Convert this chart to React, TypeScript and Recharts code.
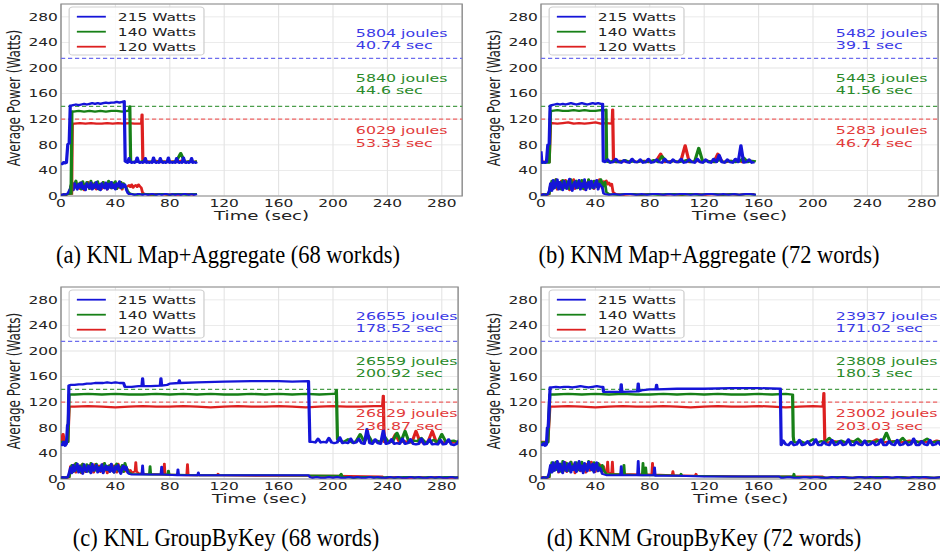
import React from 'react';
import {
  LineChart,
  Line,
  XAxis,
  YAxis,
  CartesianGrid,
  ReferenceLine,
  ReferenceDot,
  ReferenceArea,
} from 'recharts';

type P = { t: number; v: number };
// expand typed samples onto their sampling grid
const g = (t0: number, dt: number, vals: number[]): P[] =>
  vals.map((v, i) => ({ t: +(t0 + i * dt).toFixed(2), v }));
const p = (pairs: number[][]): P[] => pairs.map(([t, v]) => ({ t, v }));

const X_TICKS = [0, 40, 80, 120, 160, 200, 240, 280];
const Y_TICKS = [0, 40, 80, 120, 160, 200, 240, 280];
const LIMITS = [215, 140, 120];
const SERIES_NAMES = ['215 Watts', '140 Watts', '120 Watts'];
const NOTE_Y = [254, 236, 184, 166, 103, 83];
const NOTE_X = 216.8;

const CAPTIONS = [
  '(a) KNL Map+Aggregate (68 workds)',
  '(b) KNM Map+Aggregate (72 words)',
  '(c) KNL GroupByKey (68 words)',
  '(d) KNM GroupByKey (72 words)',
];

const aNotes = ['5804 joules', '40.74 sec', '5840 joules', '44.6 sec', '6029 joules', '53.33 sec'];
const bNotes = ['5482 joules', '39.1 sec', '5443 joules', '41.56 sec', '5283 joules', '46.74 sec'];
const cNotes = ['26655 joules', '178.52 sec', '26559 joules', '200.92 sec', '26829 joules', '236.87 sec'];
const dNotes = ['23937 joules', '171.02 sec', '23808 joules', '180.3 sec', '23002 joules', '203.03 sec'];

// ---------------- (a) KNL Map+Aggregate ----------------
const aBlueUp = [
  ...g(0, 1, [52, 50, 53, 51, 52]),
  ...p([[5, 81], [6, 82], [6.8, 141]]),
  ...g(7, 2, [141, 142, 143, 142, 143, 144, 143, 144, 145, 144, 145, 144, 145, 146, 145, 146, 146, 147, 146, 147]),
  ...p([[46.5, 148], [47.2, 54]]),
  ...g(48, 1, [53, 52, 59, 53, 52, 53, 52, 53, 60, 53, 52, 53, 52, 53, 59, 52, 53, 52, 53, 52, 60, 53, 52, 53, 52, 59, 53, 52, 53, 52, 53, 60, 52, 53, 52, 53, 52, 59, 53, 52, 53, 52, 60, 53, 52, 53, 52, 53, 59, 52, 53, 52, 53]),
];
const aGreenUp = [
  ...p([[7.4, 2], [8, 132]]),
  ...g(9, 4, [132, 133, 132, 133, 132, 133, 132, 133, 133, 132, 133]),
  ...p([[50.2, 133], [50.6, 140], [51.2, 54]]),
  ...g(52, 3, [53, 54, 53, 55, 53, 54, 53, 55, 53, 54, 53, 55, 67, 53, 54, 53, 54]),
];
const aRedUp = [
  ...p([[7.8, 2], [8.3, 113]]),
  ...g(10, 4, [113, 114, 113, 114, 113, 113, 114, 113, 114, 113, 114, 113, 113]),
  ...p([[59.3, 114], [59.6, 127], [60.2, 53]]),
  ...g(61, 3, [53, 54, 53, 55, 53, 54, 53, 54, 53, 55, 53, 54, 53, 54]),
];
const aBlueLo = [
  ...g(0, 1, [2, 2, 3, 2, 3, 4]),
  ...p([[6, 8]]),
  ...g(7, 1, [12, 18, 9, 20, 14, 10, 19, 13, 21, 11, 16, 9, 20, 15, 12, 21, 10, 18, 13, 22, 11, 17, 9, 20, 14, 12, 21, 10, 19, 13, 22, 12, 18, 10, 20, 15, 23, 12, 19, 14]),
  ...p([[47, 18], [48, 10], [49, 5], [50, 3]]),
  ...g(52, 2, [3, 2, 3, 3, 2, 3, 2, 3, 3, 2, 3, 2, 3, 3, 2, 3, 2, 3, 2, 3, 3, 2, 3, 2, 3]),
];
const aGreenLo = [
  ...g(0, 1, [2, 2, 2, 3, 2, 3, 3]),
  ...g(7, 1, [14, 22, 11, 19, 24, 12, 17, 21, 10, 23, 15, 13, 22, 18, 11, 24, 16, 12, 21, 14, 23, 10, 19, 15, 22, 13, 20, 11, 24, 17, 12, 21, 16, 23, 11, 18, 14, 22, 12, 20, 15, 13, 8, 5]),
  ...g(52, 4, [3, 2, 3, 3, 2, 3, 3, 2, 3, 3, 2, 3, 3]),
];
const aRedLo = [
  ...g(0, 1, [2, 2, 3, 2, 2, 3, 3]),
  ...g(7, 1, [13, 20, 10, 17, 22, 12, 18, 11, 21, 15, 9, 19, 14, 22, 11, 16, 20, 12, 18, 10, 21, 13, 17, 11, 22, 14, 19, 10, 16, 21, 12, 18, 15, 20, 11, 17, 13, 22, 10, 19, 16, 14, 15, 17, 14, 18, 13, 16, 17, 14, 18, 15, 13, 5]),
  ...g(62, 4, [3, 2, 3, 3, 2, 3, 2, 3, 3, 2]),
];

// ---------------- (b) KNM Map+Aggregate ----------------
const bBlueUp = [
  ...p([[0, 70], [0.6, 53]]),
  ...g(1, 1, [52, 53, 52, 53]),
  ...p([[5, 80], [6, 81], [6.7, 141]]),
  ...g(8, 2, [142, 143, 144, 143, 144, 143, 144, 145, 144, 143, 144, 145, 144, 143, 144, 145, 144, 145, 144]),
  ...p([[45.3, 144], [45.8, 54]]),
  ...g(47, 2, [53, 57, 52, 53, 58, 53, 52, 56, 53, 52, 58, 53, 53, 57, 52, 53, 58, 52, 53, 57, 53, 52, 58, 53, 52, 57, 53, 53, 58, 52, 53, 57, 53, 52, 58, 53, 52, 57, 53, 52, 58, 53, 64, 53, 52, 57, 53, 52, 58, 53, 79, 52, 53, 57, 52, 53]),
];
const bGreenUp = [
  ...p([[0, 52], [6, 52], [7, 133]]),
  ...g(8, 4, [133, 134, 133, 133, 134, 133, 134, 133, 133, 134]),
  ...p([[47.5, 134], [47.8, 135], [48.3, 54]]),
  ...g(50, 3, [53, 55, 53, 54, 56, 53, 54, 53, 55, 53, 54, 56, 53, 62, 54, 53, 55, 53, 54, 56, 53, 54, 75, 53, 55, 54, 53, 56, 53, 54, 55, 53, 54, 60, 53, 55, 54]),
];
const bRedUp = [
  ...p([[0, 54], [6, 53], [7, 114]]),
  ...g(8, 4, [114, 113, 114, 115, 113, 114, 113, 114, 115, 113, 114, 113]),
  ...p([[52.4, 114], [52.7, 135], [53.3, 54]]),
  ...g(55, 3, [53, 55, 54, 53, 56, 53, 54, 55, 53, 54, 56, 66, 53, 54, 55, 53, 56, 79, 53, 54, 55, 53, 56, 54, 53, 66, 54, 53, 55, 54, 56, 53, 54, 55, 53]),
];
const bBlueLo = [
  ...g(0, 1, [2, 2, 3, 2, 2, 3]),
  ...p([[6, 8]]),
  ...g(7, 1, [20, 8, 25, 12, 18, 26, 10, 22, 14, 9, 24, 16, 11, 21, 27, 13, 8, 19, 23, 12, 17, 25, 10, 20, 14, 26, 9, 18, 22, 11, 24, 15, 12, 21, 25, 10, 19, 16]),
  ...p([[45, 14], [46, 4], [47, 3]]),
  ...g(50, 4, [2, 3, 2, 3, 3, 2, 3, 2, 3, 3, 2, 3, 2, 3, 3, 2, 3, 2, 3, 3, 2, 3, 2, 3, 2, 3, 3, 2]),
];
const bGreenLo = [
  ...g(0, 1, [2, 2, 2, 3, 2, 3, 3]),
  ...g(7, 1, [15, 24, 11, 20, 26, 13, 18, 22, 10, 25, 16, 12, 23, 19, 11, 26, 14, 21, 17, 24, 12, 20, 15, 25, 11, 22, 18, 13, 26, 16, 21, 12, 24, 19, 14, 23, 17, 26, 20, 15, 22, 6]),
  ...g(50, 6, [3, 2, 3, 3, 2, 3, 2, 3, 3, 2, 3, 2, 3, 3, 2, 3, 2, 3, 2]),
];
const bRedLo = [
  ...g(0, 1, [2, 3, 2, 2, 3, 2, 3]),
  ...g(7, 1, [18, 11, 23, 14, 26, 10, 20, 16, 24, 12, 19, 25, 13, 21, 9, 22, 17, 26, 11, 20, 15, 24, 12, 18, 23, 10, 21, 16, 25, 13, 19, 22, 11, 24, 17, 14, 26, 20, 12, 23, 22, 24, 18, 21, 16, 19, 6]),
  ...g(55, 6, [3, 2, 3, 2, 3, 3, 2, 3, 2, 3, 3, 2, 3, 2, 3, 2, 3, 3]),
];

// ---------------- (c) KNL GroupByKey ----------------
const cBlueUp = [
  ...g(0, 1, [56, 53, 58, 52, 55]),
  ...p([[4.8, 84], [5.3, 86], [5.8, 146]]),
  ...g(7, 3, [147, 147, 148, 148, 149, 149, 150, 150, 150, 151, 150, 151, 150, 150]),
  ...p([[47, 144], [52, 144], [57, 145], [59.5, 145], [60, 157], [60.5, 145], [66, 145], [73, 146], [73.5, 157], [74, 146], [78, 147], [80, 149], [86.5, 150], [87, 154], [87.5, 150], [100, 151], [120, 152], [140, 153], [160, 153], [170, 152], [182, 153], [183, 58]]),
  ...g(185, 2, [58, 57, 63, 57, 58, 57, 64, 57, 56, 57, 65, 56, 57, 56, 63, 56, 57, 63, 56, 55, 78, 56, 55, 62, 56, 55, 76, 55, 56, 62, 55, 56, 55, 63, 55, 56, 62, 55, 54, 55, 63, 54, 55, 62, 54, 55, 54, 61, 54, 55, 62, 54, 53, 55, 61, 54, 53, 55]),
];
const cGreenUp = [
  ...p([[0, 58], [5, 58], [6, 132]]),
  ...g(10, 10, [132, 133, 132, 133, 132, 132, 133, 132, 133, 132, 133, 132, 132, 133, 132, 133, 132, 133, 132, 133]),
  ...p([[202, 133], [202.5, 139], [203.3, 62]]),
  ...g(205, 3, [60, 58, 62, 57, 59, 70, 58, 68, 57, 60, 58, 66, 57, 59, 72, 58, 75, 57, 60, 59, 64, 57, 58, 61, 57, 70, 58, 59, 60, 57, 58, 59]),
];
const cRedUp = [
  ...p([[0, 58], [1.5, 70], [2.5, 57], [5, 58], [6, 113]]),
  ...g(10, 10, [113, 114, 113, 112, 113, 114, 113, 113, 114, 113, 112, 113, 114, 113, 113, 114, 113, 112, 113, 114, 113, 113, 114]),
  ...p([[236.5, 114], [237, 130], [237.6, 58]]),
  ...g(240, 3, [57, 58, 70, 57, 59, 58, 57, 75, 58, 57, 59, 75, 57, 58, 57, 59, 57, 58, 57, 58]),
];
const cBlueLo = [
  ...g(0, 1, [2, 3, 2, 3, 2, 3]),
  ...p([[6, 10]]),
  ...g(7, 1, [18, 9, 22, 12, 17, 24, 10, 20, 14, 8, 23, 15, 11, 21, 19, 9, 24, 13, 17, 22, 10, 18, 12, 23, 9, 16, 21, 14, 19, 11, 24, 13, 10, 20, 15, 22, 12, 8, 18, 21, 14, 19, 10]),
  ...p([[50, 8], [52, 7], [59.5, 7], [60, 21], [60.5, 7], [73.5, 7], [74, 19], [74.5, 7], [85.5, 6], [86, 15], [86.5, 6], [100.5, 6], [101, 10], [101.5, 6], [120, 6], [150, 6], [182, 6], [183, 3]]),
  ...g(185, 3, [2, 3, 2, 2, 3, 2, 3, 2, 2, 3, 2, 3, 2, 2, 3, 2, 3, 2, 2, 3, 2, 3, 2, 2, 3, 2, 3, 2, 2, 3, 2, 3, 2, 2, 3, 2, 3, 2, 2]),
];
const cGreenLo = [
  ...g(0, 1, [2, 2, 3, 2, 2, 3, 3]),
  ...g(7, 1, [14, 22, 11, 19, 25, 13, 17, 21, 10, 24, 16, 12, 23, 18, 11, 25, 15, 20, 13, 24, 12, 19, 16, 22, 11, 25, 14, 18, 21, 12, 23, 17, 10, 20, 24, 13, 19, 15, 22, 11, 25, 18, 14, 10]),
  ...p([[52, 8], [65, 7], [65.5, 20], [66, 7], [78.5, 7], [79, 13], [79.5, 7], [100, 6], [150, 6], [205, 5], [206, 8], [207, 3]]),
  ...g(210, 6, [3, 2, 3, 3, 2, 3, 2, 3, 3, 2, 3, 2, 3, 3, 2]),
];
const cRedLo = [
  ...g(0, 1, [2, 3, 2, 2, 3, 2, 3]),
  ...g(7, 1, [20, 12, 16, 23, 10, 18, 14, 21, 9, 24, 15, 11, 20, 17, 22, 12, 19, 10, 23, 14, 18, 21, 11, 16, 24, 13, 20, 9, 17, 22, 15, 12, 21, 18, 10, 24, 14, 19, 16, 11, 13, 12, 15, 11, 14, 10]),
  ...p([[54.5, 12], [55, 26], [55.5, 12], [57, 9], [62, 8], [75.5, 7], [76, 24], [76.5, 7], [92.5, 6], [93, 23], [93.5, 6], [115, 6], [115.5, 8], [116, 6], [150, 5], [200, 5], [236, 4], [238, 2]]),
  ...g(240, 6, [2, 3, 2, 2, 3, 2, 3, 2, 2, 3]),
];

// ---------------- (d) KNM GroupByKey ----------------
const dBlueUp = [
  ...g(0, 1, [55, 53, 56, 52, 54]),
  ...p([[4.7, 80], [5.3, 81], [6.7, 143]]),
  ...g(8, 3, [143, 144, 143, 144, 144, 143, 144, 145, 144, 143, 144, 145, 144]),
  ...p([[45.5, 144], [46, 136], [58.5, 136], [59, 148], [59.5, 136], [71, 137], [71.5, 149], [72, 137], [75, 139], [80, 140], [84.5, 140], [85, 147], [85.5, 140], [100, 141], [120, 141], [140, 142], [160, 142], [176, 141], [176.6, 53]]),
  ...g(178, 2, [60, 54, 53, 58, 53, 54, 61, 53, 54, 59, 53, 54, 62, 53, 53, 58, 54, 53, 61, 53, 54, 59, 53, 54, 62, 53, 53, 58, 54, 53, 60, 53, 54, 58, 53, 54, 62, 53, 53, 59, 54, 53, 61, 53, 54, 58, 53, 54, 63, 53, 53, 59, 54, 53, 61, 53, 54, 58, 53, 54, 60]),
];
const dGreenUp = [
  ...p([[0, 57], [5, 57], [6.5, 132]]),
  ...g(10, 10, [132, 133, 132, 133, 132, 133, 132, 132, 133, 132, 133, 132, 133, 132, 132, 133, 132, 133]),
  ...p([[185, 132], [185.5, 66], [186, 58]]),
  ...g(188, 3, [57, 59, 56, 58, 62, 57, 59, 58, 64, 57, 58, 60, 57, 59, 58, 63, 57, 58, 59, 57, 60, 58, 72, 57, 59, 58, 64, 57, 58, 60, 57, 59, 63, 57, 58, 59, 57, 60]),
];
const dRedUp = [
  ...p([[0, 58], [5, 58], [6.5, 113]]),
  ...g(10, 10, [113, 114, 113, 112, 113, 114, 113, 113, 114, 113, 112, 113, 114, 113, 113, 114, 113, 112, 113, 114]),
  ...p([[207.5, 113], [208, 134], [208.7, 58]]),
  ...g(211, 4, [57, 59, 58, 57, 60, 58, 57, 59, 58, 62, 57, 58, 59, 57, 58, 60, 57, 59, 58, 57, 60, 58, 57]),
];
const dBlueLo = [
  ...g(0, 1, [2, 2, 3, 2, 2, 3]),
  ...p([[6, 10]]),
  ...g(7, 1, [22, 10, 26, 13, 19, 28, 11, 24, 15, 9, 27, 17, 12, 23, 25, 10, 20, 14, 26, 11, 18, 28, 13, 21, 9, 25, 16, 12, 27, 19, 14, 24, 10, 22, 26, 12, 18, 15]),
  ...p([[45, 8], [48, 6], [58.5, 6], [59, 20], [59.5, 6], [71, 6], [71.5, 28], [72, 6], [83, 6], [83.5, 18], [84, 5], [100, 5], [120, 4], [150, 4], [175, 4], [176.6, 2]]),
  ...g(178, 4, [2, 3, 2, 2, 3, 2, 3, 2, 2, 3, 2, 3, 2, 2, 3, 2, 3, 2, 2, 3, 2, 3, 2, 2, 3, 2, 3, 2, 2, 3, 2]),
];
const dGreenLo = [
  ...g(0, 1, [2, 2, 2, 3, 2, 3, 3]),
  ...g(7, 1, [16, 26, 12, 21, 27, 14, 19, 24, 11, 28, 17, 13, 25, 20, 12, 27, 15, 22, 18, 26, 13, 21, 16, 27, 12, 24, 19, 14, 28, 17, 22, 13, 26, 20, 15, 25, 18, 12, 22, 14]),
  ...p([[48, 8], [60.5, 7], [61, 22], [61.5, 7], [74.5, 6], [75, 25], [75.5, 6], [76.5, 6], [77, 18], [77.5, 6], [90, 6], [102.5, 5], [103, 8], [103.5, 5], [140, 4], [185.5, 4], [186, 8], [186.5, 3], [200, 3]]),
  ...g(205, 6, [3, 2, 3, 3, 2, 3, 2, 3, 3, 2, 3, 2, 3, 3, 2, 3]),
];
const dRedLo = [
  ...g(0, 1, [2, 3, 2, 2, 3, 2, 3]),
  ...g(7, 1, [19, 12, 25, 15, 22, 27, 10, 20, 17, 24, 13, 26, 11, 21, 18, 27, 14, 23, 9, 25, 16, 20, 12, 26, 15, 22, 10, 24, 19, 13, 27, 17, 21, 11, 25, 14, 23, 18, 12, 20]),
  ...p([[47, 10], [48.5, 10], [49, 27], [49.5, 10], [52, 9], [52.5, 27], [53, 8], [81.5, 7], [82, 25], [82.5, 7], [96.5, 6], [97, 12], [97.5, 6], [113.5, 5], [114, 8], [114.5, 5], [150, 4], [207, 4], [208.7, 2]]),
  ...g(211, 6, [2, 3, 2, 2, 3, 2, 3, 2, 2, 3, 2, 3, 2, 2, 3]),
];

// ---------------- styling / layout ----------------
const S = 1.4; // horizontal stretch of the original figure
const PX_PER_SEC = 1.36 / S;
const Y_AXIS_W = 61 / S;
const CH = 230;
const FONT = 'DejaVu Sans';
const COLORS = ['#1515d8', '#178017', '#dd2020'];
const DASH_COLORS = ['#6e6eee', '#4c9e4c', '#ee6262'];
const NOTE_COLORS = ['#3a3ae6', '#2a8a2a', '#e23a3a'];

type PanelProps = {
  left: number;
  top: number;
  xmax: number;
  up: P[][];
  lo: P[][];
  notes: string[];
};

function Panel({ left, top, xmax, up, lo, notes }: PanelProps) {
  const w = Y_AXIS_W + xmax * PX_PER_SEC + 2;
  const plotCenter = Y_AXIS_W + (xmax * PX_PER_SEC) / 2;
  const tickStyle = { fontSize: 11, fill: '#222', fontFamily: FONT };
  const order = [2, 1, 0];
  return (
    <div
      style={{
        position: 'absolute',
        left,
        top,
        width: w,
        height: CH,
        transform: `scaleX(${S})`,
        transformOrigin: '0 0',
      }}
    >
      <LineChart width={w} height={CH} margin={{ top: 4, right: 2, bottom: 4, left: 0 }} style={{ fontFamily: FONT }}>
        <CartesianGrid stroke="#e4e4e4" strokeWidth={0.8} />
        <XAxis
          type="number"
          dataKey="t"
          domain={[0, xmax]}
          allowDataOverflow
          ticks={X_TICKS}
          interval={0}
          height={30}
          tickSize={0}
          tickMargin={3.5}
          axisLine={false}
          tick={tickStyle}
        />
        <YAxis
          type="number"
          domain={[0, 300]}
          allowDataOverflow
          ticks={Y_TICKS}
          interval={0}
          width={Y_AXIS_W}
          tickSize={0}
          tickMargin={2.2}
          axisLine={false}
          tick={tickStyle}
        />
        {LIMITS.map((y, i) => (
          <ReferenceLine key={'lim' + y} y={y} stroke={DASH_COLORS[i]} strokeDasharray="3 2" strokeWidth={1.2} />
        ))}
        {order.map((i) => (
          <Line
            key={'lo' + i}
            data={lo[i]}
            dataKey="v"
            name={SERIES_NAMES[i] + ' (low)'}
            type="linear"
            stroke={COLORS[i]}
            strokeWidth={2}
            dot={false}
            activeDot={false}
            isAnimationActive={false}
            strokeLinejoin="round"
          />
        ))}
        {order.map((i) => (
          <Line
            key={'up' + i}
            data={up[i]}
            dataKey="v"
            name={SERIES_NAMES[i]}
            type="linear"
            stroke={COLORS[i]}
            strokeWidth={2.3}
            dot={false}
            activeDot={false}
            isAnimationActive={false}
            strokeLinejoin="round"
          />
        ))}
        <ReferenceArea x1={0} x2={xmax} y1={0} y2={300} fill="none" stroke="#8c8c8c" strokeWidth={1} ifOverflow="visible" />
        {notes.map((txt, k) => (
          <ReferenceDot
            key={'note' + k}
            x={NOTE_X}
            y={NOTE_Y[k]}
            r={0}
            fill="none"
            stroke="none"
            label={{
              value: txt,
              position: 'right',
              offset: 0,
              fill: NOTE_COLORS[Math.floor(k / 2)],
              fontSize: 11.3,
              fontFamily: FONT,
            }}
          />
        ))}
      </LineChart>
      <svg
        width={w}
        height={CH}
        style={{ position: 'absolute', left: 0, top: 0, pointerEvents: 'none', fontFamily: FONT }}
      >
        <text
          transform="translate(14, 98) rotate(-90)"
          textAnchor="middle"
          fontSize={12}
          fill="#222"
        >
          Average Power (Watts)
        </text>
        <text x={plotCenter} y={220.5} textAnchor="middle" fontSize={13} fill="#222">
          Time (sec)
        </text>
        <g transform="translate(49.4, 7)">
          <rect x={0} y={0} width={96.3} height={48} rx={2.5} fill="#fff" fillOpacity={0.85} stroke="#cfcfcf" strokeWidth={0.9} />
          {SERIES_NAMES.map((n, i) => (
            <g key={n}>
              <line x1={5.5} x2={26.2} y1={9.7 + i * 15} y2={9.7 + i * 15} stroke={COLORS[i]} strokeWidth={1.8} />
              <text x={34.8} y={13.7 + i * 15} fontSize={11} fill="#222">
                {n}
              </text>
            </g>
          ))}
        </g>
      </svg>
    </div>
  );
}

const CAPTION_POS = [
  [228, 262.5],
  [709, 262.5],
  [226, 546],
  [704, 546],
];

export default function App() {
  return (
    <div
      style={{
        position: 'absolute',
        left: 0,
        top: 0,
        width: 940,
        height: 554,
        overflow: 'hidden',
        background: '#fff',
      }}
    >
      <Panel left={0} top={0} xmax={295} up={[aBlueUp, aGreenUp, aRedUp]} lo={[aBlueLo, aGreenLo, aRedLo]} notes={aNotes} />
      <Panel left={480} top={0} xmax={292} up={[bBlueUp, bGreenUp, bRedUp]} lo={[bBlueLo, bGreenLo, bRedLo]} notes={bNotes} />
      <Panel left={0} top={283} xmax={292} up={[cBlueUp, cGreenUp, cRedUp]} lo={[cBlueLo, cGreenLo, cRedLo]} notes={cNotes} />
      <Panel left={480} top={283} xmax={294} up={[dBlueUp, dGreenUp, dRedUp]} lo={[dBlueLo, dGreenLo, dRedLo]} notes={dNotes} />
      <svg width={940} height={554} style={{ position: 'absolute', left: 0, top: 0, pointerEvents: 'none' }}>
        {CAPTIONS.map((c, i) => (
          <text
            key={c}
            transform={`translate(${CAPTION_POS[i][0]}, ${CAPTION_POS[i][1]}) scale(0.9, 1)`}
            x={0}
            y={0}
            textAnchor="middle"
            fontSize={25}
            fontFamily="Liberation Serif"
            fill="#000"
          >
            {c}
          </text>
        ))}
      </svg>
    </div>
  );
}
